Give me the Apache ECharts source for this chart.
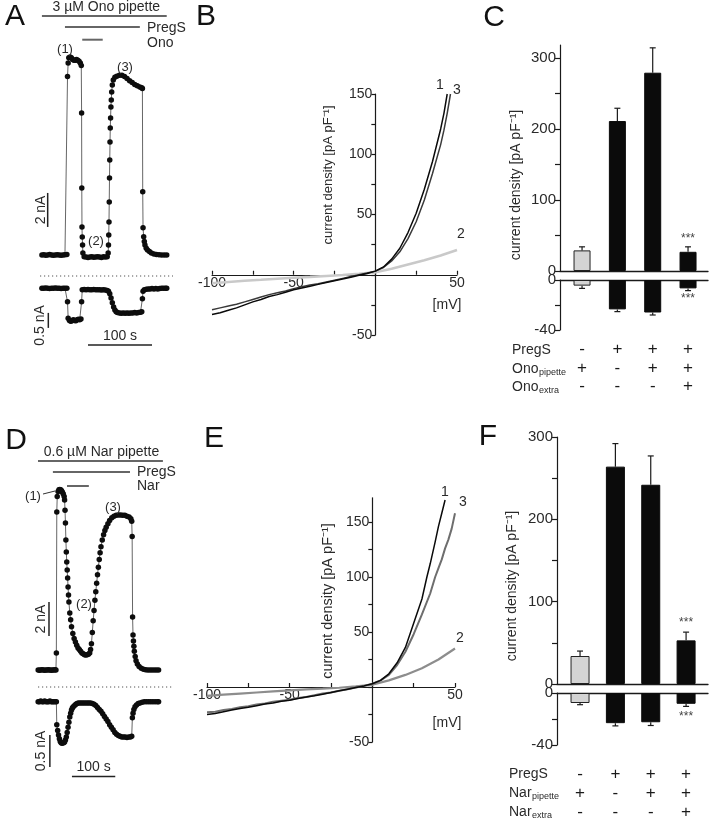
<!DOCTYPE html>
<html><head><meta charset="utf-8">
<script src="https://cdn.jsdelivr.net/npm/echarts@6/dist/echarts.min.js"></script>
<style>html,body{margin:0;padding:0;background:#fff}#c{width:710px;height:821px}</style>
</head><body><div id="c"></div>
<script>
// ---------------- DATA ----------------
// Panel A: whole-cell current vs time (s, nA)
const traceAUpper = [[3,0],[6,0.02],[9,-0.02],[12,0],[15,0.03],[18,0],[21,-0.02],[24,0],[27,0.02],[30,0],[33,-0.02],[36,0],[39,0.02],[42,0.03],[43,10.5],[44,11.3],[45,11.6],[47,11.65],[49,11.6],[51,11.5],[53,11.45],[55,11.45],[57,11.5],[59,11.45],[61,11.4],[63,11.3],[64.5,11.15],[65,8.35],[65.3,3.94],[65.6,1.65],[66,1.06],[66.5,0.59],[67,0.12],[69,-0.1],[72,-0.12],[75,-0.14],[78,-0.12],[81,-0.1],[84,-0.13],[87,-0.12],[90,-0.1],[93,-0.12],[96,-0.14],[99,-0.1],[102,-0.12],[105,-0.1],[106.5,0.12],[107,0.59],[107.4,1.18],[107.8,1.94],[108.2,3.12],[108.6,4.53],[109,5.59],[109.4,6.65],[109.8,7.47],[110.3,8.06],[110.8,8.71],[111.4,9.12],[112,9.59],[113,10.0],[114.5,10.3],[117,10.45],[120,10.52],[124,10.57],[128,10.58],[132,10.5],[136,10.38],[140,10.25],[144,10.14],[148,10.03],[152,9.95],[156,9.88],[159,9.84],[160,9.8],[160.5,3.72],[161,1.6],[162,1.08],[163,0.8],[164,0.59],[166,0.4],[168,0.29],[171,0.2],[174,0.12],[178,0.06],[182,0.03],[186,0.01],[190,0],[194,0],[198,0]];
const traceALower = [[3,0],[6,0],[9,0.01],[12,0],[15,-0.01],[18,0],[21,0],[24,0.01],[27,0],[30,0],[33,-0.01],[36,0],[39,0],[42,0],[43,-0.45],[44,-1.0],[46,-1.07],[48,-1.1],[50,-1.08],[52,-1.05],[54,-1.07],[56,-1.08],[58,-1.05],[60,-1.03],[62,-1.05],[64,-1.02],[65,-0.45],[66,-0.05],[69,-0.04],[72,-0.05],[75,-0.04],[78,-0.05],[81,-0.05],[84,-0.04],[87,-0.05],[90,-0.05],[93,-0.05],[96,-0.06],[99,-0.05],[102,-0.06],[105,-0.07],[107,-0.1],[109,-0.18],[111,-0.32],[113,-0.48],[115,-0.62],[117,-0.72],[119,-0.78],[121,-0.81],[124,-0.82],[127,-0.83],[130,-0.82],[133,-0.83],[136,-0.82],[139,-0.83],[142,-0.82],[145,-0.82],[148,-0.81],[151,-0.82],[154,-0.81],[157,-0.8],[159,-0.78],[160,-0.35],[161,-0.1],[163,-0.05],[166,-0.03],[169,-0.02],[172,-0.02],[175,-0.01],[178,-0.02],[181,-0.01],[184,-0.02],[187,-0.01],[190,0],[193,0],[196,0],[198,0]];
const pipetteA = [3, 198], pregsA = [39, 156], onoA = [66, 98];

// Panel D
const traceDUpper = [[5,0],[8,-0.02],[11,0],[14,0.02],[17,0],[20,-0.02],[23,0],[26,0],[29,0.02],[32,0],[35,-0.02],[38,0],[41,0],[44,0.02],[46,0],[47,1.0],[48,9.3],[49,10.2],[51,10.5],[53,10.6],[55,10.62],[57,10.6],[59,10.55],[61,10.45],[63,10.35],[65,10.2],[66,10.0],[67,9.4],[68,8.65],[69,7.65],[70,6.94],[71,6.35],[72,5.88],[73,5.41],[74,4.88],[75,4.41],[76,4.0],[78,3.35],[80,2.95],[82,2.55],[85,2.15],[88,1.85],[91,1.65],[94,1.45],[97,1.3],[100,1.2],[103,1.1],[106,1.0],[109,0.95],[112,0.9],[115,0.88],[118,0.9],[121,0.93],[124,1.0],[126,1.2],[128,1.55],[130,2.2],[132,2.9],[134,3.5],[136,4.1],[138,4.6],[140,5.1],[142,5.6],[144,6.05],[146,6.5],[148,6.9],[150,7.25],[153,7.65],[156,7.95],[159,8.2],[162,8.4],[166,8.6],[170,8.8],[175,8.95],[180,9.05],[185,9.1],[190,9.12],[195,9.12],[200,9.1],[205,9.1],[210,9.05],[215,9.0],[219,8.9],[221,8.75],[222,7.85],[223,3.12],[224,2.06],[225,1.7],[226,1.4],[227,1.1],[229,0.8],[231,0.55],[234,0.35],[238,0.2],[243,0.1],[248,0.05],[253,0.02],[258,0],[263,0],[268,0],[273,0],[278,0],[283,0]];
const traceDLower = [[5,0],[8,0],[11,0.01],[14,0],[17,0],[20,0.01],[23,0],[26,0],[29,0],[32,0.01],[35,0],[38,0],[41,0],[44,0],[47,0],[48,-0.36],[50,-0.45],[52,-0.52],[54,-0.58],[56,-0.62],[58,-0.64],[60,-0.65],[62,-0.64],[64,-0.64],[66,-0.63],[68,-0.6],[70,-0.55],[72,-0.48],[74,-0.4],[76,-0.32],[78,-0.24],[80,-0.18],[82,-0.13],[84,-0.1],[86,-0.08],[89,-0.06],[92,-0.04],[95,-0.03],[98,-0.02],[102,-0.02],[106,-0.02],[110,-0.02],[114,-0.02],[118,-0.02],[122,-0.02],[126,-0.02],[130,-0.03],[134,-0.04],[138,-0.06],[142,-0.09],[146,-0.12],[150,-0.15],[154,-0.19],[158,-0.23],[162,-0.27],[166,-0.31],[170,-0.36],[174,-0.4],[178,-0.44],[182,-0.48],[186,-0.51],[190,-0.53],[194,-0.54],[198,-0.55],[202,-0.55],[206,-0.55],[210,-0.56],[214,-0.55],[218,-0.55],[221,-0.54],[222.5,-0.25],[224,-0.18],[226,-0.12],[228.6,-0.08],[232,-0.05],[236,-0.03],[240,-0.02],[245,-0.01],[250,0],[255,0],[260,0],[265,0],[270,0],[275,0],[280,0],[283,0]];
const pipetteD = [4.6, 293], pregsD = [39, 217], narD = [71.6, 122];

// Panel B: current density (pA/pF) vs voltage (mV)
const ivB1 = [[-100,-33],[-95,-31.5],[-90,-29.5],[-85,-27.5],[-80,-25],[-75,-22.5],[-70,-20.5],[-65,-18],[-60,-16.5],[-55,-14.5],[-50,-12.5],[-45,-11],[-40,-9.5],[-35,-8],[-30,-6.5],[-25,-5],[-20,-3.5],[-15,-2],[-10,-0.5],[-5,1],[0,3],[5,6.5],[10,13],[15,22],[20,35],[25,51],[30,71],[35,94],[40,121],[42,134],[44,150]];
const ivB3 = [[-100,-29],[-95,-27.5],[-90,-26],[-85,-24.5],[-80,-22.5],[-75,-20.5],[-70,-18.5],[-65,-16.5],[-60,-15],[-55,-13.5],[-50,-11.5],[-45,-10],[-40,-8.5],[-35,-7.5],[-30,-6],[-25,-4.5],[-20,-3],[-15,-1.5],[-10,0],[-5,1.5],[0,3],[5,6],[10,11.5],[15,19],[20,30],[25,44],[30,62],[35,84],[40,108],[42,120],[44,134],[46,150]];
const ivB2 = [[-100,-7],[-90,-6],[-80,-5],[-70,-4.2],[-60,-3.3],[-50,-2.5],[-40,-1.8],[-30,-1],[-20,-0.2],[-10,0.8],[0,2],[10,5],[20,8.5],[30,12],[40,16],[50,20.5]];

// Panel E
const ivE1 = [[-100,-25],[-95,-24],[-90,-22.5],[-85,-21],[-80,-19.5],[-75,-18.5],[-70,-17],[-65,-15.5],[-60,-14.5],[-55,-13],[-50,-12],[-45,-10.5],[-40,-9],[-35,-8],[-30,-6.5],[-25,-5],[-20,-3.5],[-15,-2],[-10,-0.5],[-5,1],[0,3],[5,6],[10,12],[15,22],[20,36],[25,58],[30,80],[33,100],[35,112],[38,132],[40,146],[42,158],[44,170]];
const ivE3 = [[-100,-23],[-95,-22.5],[-90,-21],[-85,-20],[-80,-18.5],[-75,-17.5],[-70,-16],[-65,-15],[-60,-13.5],[-55,-12.5],[-50,-11.5],[-45,-10],[-40,-9],[-35,-7.5],[-30,-6],[-25,-5],[-20,-3.5],[-15,-2],[-10,-0.5],[-5,1],[0,3],[5,6],[10,11],[15,20],[20,32],[25,48],[30,66],[35,85],[38,100],[40,108],[42,116],[44,126],[46,134],[48,144],[50,158]];
const ivE2 = [[-100,-8],[-90,-7],[-80,-6],[-70,-5],[-60,-4],[-50,-3],[-40,-2.2],[-30,-1.5],[-20,-0.7],[-10,0.5],[0,2],[10,6],[20,11],[30,17],[40,25],[50,35]];

// Panel C: mean outward / inward current density and error-bar ends
const cOutMean = [29, 211, 279, 27];
const cOutErrEnd = [34, 229, 314, 34];
const cInMean = [-4.5, -23.5, -26, -6.7];
const cInErrEnd = [-6.7, -25.3, -28, -8.5];
const cSig = ['', '', '', '***'];
const pregsRowC = ['-', '+', '+', '+'];
const onoPipRowC = ['+', '-', '+', '+'];
const onoExtRowC = ['-', '-', '-', '+'];

// Panel F
const fOutMean = [34, 264, 242, 53];
const fOutErrEnd = [40, 292, 277, 63];
const fInMean = [-7.7, -23.2, -22.5, -8.3];
const fInErrEnd = [-9, -25.3, -25, -10.3];
const fSig = ['', '', '', '***'];
const pregsRowF = ['-', '+', '+', '+'];
const narPipRowF = ['+', '-', '+', '+'];
const narExtRowF = ['-', '-', '-', '+'];

// Axis ticks
const ivXTicks = [-100, -75, -50, -25, 0, 25, 50];
const ivXLabels = [-100, -50, 50];
const ivYTicks = [-50, -25, 0, 25, 50, 75, 100, 125, 150];
const ivYLabels = [-50, 50, 100, 150];
const barYTicks = [0, 50, 100, 150, 200, 250, 300];
const barYLabels = [0, 100, 200, 300];
const barNegTicks = [-40, -20, 0];
const barNegLabels = [-40, 0];
const conditionIdx = [1, 2, 3, 4];

// ---------------- CHART ----------------
const FONT = '"Liberation Sans", Arial, Helvetica, sans-serif';
const INK = '#1a1a1a';
const TXT = '#2a2a2a';
const chart = echarts.init(document.getElementById('c'), null, {renderer: 'canvas'});

// IV plot frames (pixel box + value ranges)
const ivB = {left: 212, top: 94, width: 245, height: 241, xmin: -100, xmax: 50, ymin: -50, ymax: 150};
const ivE = {left: 207, top: 497.8, width: 248, height: 244.2, xmin: -100, xmax: 50, ymin: -50, ymax: 172};
const zeroX = f => f.left + (0 - f.xmin) / (f.xmax - f.xmin) * f.width;
const zeroY = f => f.top + (f.ymax - 0) / (f.ymax - f.ymin) * f.height;

const gridDefs = [
  {left: 40, top: 51, width: 128, height: 212.5},      // 0 A upper
  {left: 40, top: 277.8, width: 128, height: 58.5},    // 1 A lower
  {left: ivB.left, top: ivB.top, width: ivB.width, height: ivB.height}, // 2 B data
  {left: 560, top: 45, width: 148, height: 226},       // 3 C upper
  {left: 560, top: 280, width: 148, height: 50},       // 4 C lower
  {left: 36, top: 483, width: 138.6, height: 195.5},   // 5 D upper
  {left: 36, top: 688.9, width: 138.6, height: 83.2},  // 6 D lower
  {left: ivE.left, top: ivE.top, width: ivE.width, height: ivE.height}, // 7 E data
  {left: 557, top: 437, width: 151, height: 247},      // 8 F upper
  {left: 557, top: 693, width: 151, height: 52},       // 9 F lower
  {left: ivB.left, top: ivB.top, width: ivB.width, height: zeroY(ivB) - ivB.top},   // 10 B x-axis frame
  {left: zeroX(ivB), top: ivB.top, width: ivB.left + ivB.width - zeroX(ivB), height: ivB.height}, // 11 B y-axis frame
  {left: ivE.left, top: ivE.top, width: ivE.width, height: zeroY(ivE) - ivE.top},   // 12 E x-axis frame
  {left: zeroX(ivE), top: ivE.top, width: ivE.left + ivE.width - zeroX(ivE), height: ivE.height}  // 13 E y-axis frame
].map(g => Object.assign({outerBoundsMode: 'none', containLabel: false}, g));

const lbl = (o) => Object.assign({color: TXT, fontFamily: FONT, fontSize: 14}, o);
const hid = (g, min, max) => ({type: 'value', gridIndex: g, min, max, show: false});

function ivX(g, f) {
  return {type: 'value', gridIndex: g, min: f.xmin, max: f.xmax, position: 'bottom',
    axisLine: {show: true, onZero: false, lineStyle: {color: INK, width: 1.2}},
    axisTick: {show: true, inside: true, length: 4, customValues: ivXTicks, lineStyle: {color: INK, width: 1.2}},
    axisLabel: lbl({customValues: ivXLabels, margin: 1}),
    splitLine: {show: false}};
}
function ivY(g, f) {
  return {type: 'value', gridIndex: g, min: f.ymin, max: f.ymax, position: 'left',
    axisLine: {show: true, onZero: false, lineStyle: {color: INK, width: 1.2}},
    axisTick: {show: true, length: 4, customValues: ivYTicks, lineStyle: {color: INK, width: 1.2}},
    axisLabel: lbl({customValues: ivYLabels, margin: 3}),
    splitLine: {show: false}};
}
function barX(g, min, max, pos) {
  return {type: 'value', gridIndex: g, min, max, position: pos,
    axisLine: {show: true, onZero: false, lineStyle: {color: INK, width: 1.3}},
    axisTick: {show: false}, axisLabel: {show: false}, splitLine: {show: false}};
}
function tableX(g, min, max, rows, margin, lh) {
  return {type: 'value', gridIndex: g, min, max, position: 'bottom',
    axisLine: {show: false, onZero: false}, axisTick: {show: false}, splitLine: {show: false},
    axisLabel: {customValues: conditionIdx, margin, lineHeight: lh, fontSize: 17, color: '#1a1a1a', fontFamily: FONT,
      formatter: v => rows.map(r => r[Math.round(v) - 1]).join('\n')}};
}
function barY(g, min, max, ticks, labels) {
  return {type: 'value', gridIndex: g, min, max,
    axisLine: {show: true, onZero: false, lineStyle: {color: INK, width: 1.2}},
    axisTick: {show: true, length: 5, customValues: ticks, lineStyle: {color: INK, width: 1.2}},
    axisLabel: lbl({customValues: labels, margin: 4, fontSize: 15}),
    splitLine: {show: false}};
}

const xAxes = [
  hid(0, 0, 200), hid(1, 0, 200), hid(2, ivB.xmin, ivB.xmax),
  barX(3, 0.376, 4.565, 'bottom'), barX(4, 0.376, 4.565, 'top'),
  hid(5, 0, 320), hid(6, 0, 320), hid(7, ivE.xmin, ivE.xmax),
  barX(8, 0.348, 4.62, 'bottom'), barX(9, 0.348, 4.62, 'top'),
  tableX(4, 0.376, 4.565, [pregsRowC, onoPipRowC, onoExtRowC], 10.5, 18.5),
  tableX(9, 0.348, 4.62, [pregsRowF, narPipRowF, narExtRowF], 19.5, 19),
  ivX(10, ivB), hid(11, 0, ivB.xmax), ivX(12, ivE), hid(13, 0, ivE.xmax)
];
const yAxes = [
  hid(0, -0.5, 12), hid(1, -1.6, 0.35), hid(2, ivB.ymin, ivB.ymax),
  barY(3, 0, 318, barYTicks, barYLabels), barY(4, -40, 0, barNegTicks, barNegLabels),
  hid(5, -0.5, 11), hid(6, -1.1, 0.2), hid(7, ivE.ymin, ivE.ymax),
  barY(8, 0, 300, barYTicks, barYLabels), barY(9, -40, 0, barNegTicks, barNegLabels),
  hid(10, 0, ivB.ymax), ivY(11, ivB), hid(12, 0, ivE.ymax), ivY(13, ivE)
];

function trace(g, data) {
  return {type: 'line', xAxisIndex: g, yAxisIndex: g, data, symbol: 'circle', symbolSize: 5.5,
    showSymbol: true, showAllSymbol: true, itemStyle: {color: '#0d0d0d'},
    lineStyle: {color: '#555', width: 0.9}, silent: true, z: 3, animation: false};
}
function iv(g, data, color, width) {
  return {type: 'line', xAxisIndex: g, yAxisIndex: g, data, symbol: 'none', showSymbol: false,
    lineStyle: {color, width}, silent: true, animation: false, z: 3};
}
function bars(xi, yi, means, width) {
  return {type: 'bar', xAxisIndex: xi, yAxisIndex: yi, barWidth: width, silent: true, animation: false,
    data: means.map((m, i) => ({value: [i + 1, m],
      itemStyle: i === 0 ? {color: '#d4d4d4', borderColor: '#222', borderWidth: 1} : {color: '#0b0b0b', borderColor: '#0b0b0b', borderWidth: 1}}))};
}
function errs(xi, yi, means, ends, marks, dir, gap) {
  return {type: 'custom', xAxisIndex: xi, yAxisIndex: yi, z: 5, silent: true, animation: false, clip: false,
    data: means.map((m, i) => [i + 1, m, ends[i]]),
    renderItem(params, api) {
      const a = api.coord([api.value(0), api.value(1)]);
      const b = api.coord([api.value(0), api.value(2)]);
      const ch = [
        {type: 'line', shape: {x1: a[0], y1: a[1], x2: b[0], y2: b[1]}, style: {stroke: INK, lineWidth: 1.2}},
        {type: 'line', shape: {x1: b[0] - 3, y1: b[1], x2: b[0] + 3, y2: b[1]}, style: {stroke: INK, lineWidth: 1.2}}
      ];
      const m = marks[params.dataIndex];
      if (m) ch.push({type: 'text', x: b[0], y: b[1] + dir * gap,
        style: {text: m, fill: '#444', font: '12px ' + FONT, align: 'center', verticalAlign: 'middle'}});
      return {type: 'group', children: ch};
    }};
}

const option = {
  animation: false,
  backgroundColor: '#fff',
  textStyle: {fontFamily: FONT},
  grid: gridDefs,
  xAxis: xAxes,
  yAxis: yAxes,
  series: [
    trace(0, traceAUpper), trace(1, traceALower),
    trace(5, traceDUpper), trace(6, traceDLower),
    iv(2, ivB2, '#c9c9c9', 2.6), iv(2, ivB3, '#3a3a3a', 1.5), iv(2, ivB1, '#0a0a0a', 1.5),
    iv(7, ivE2, '#8d8d8d', 2.2), iv(7, ivE3, '#6e6e6e', 2.0), iv(7, ivE1, '#0a0a0a', 1.5),
    bars(3, 3, cOutMean, 17), bars(4, 4, cInMean, 17),
    errs(3, 3, cOutMean, cOutErrEnd, cSig, -1, 8), errs(4, 4, cInMean, cInErrEnd, cSig, 1, 8),
    bars(8, 8, fOutMean, 19), bars(9, 9, fInMean, 19),
    errs(8, 8, fOutMean, fOutErrEnd, fSig, -1, 9), errs(9, 9, fInMean, fInErrEnd, fSig, 1, 10)
  ]
};
chart.setOption(option);

// ---------------- ANNOTATIONS ----------------
const P = (g, x, y) => chart.convertToPixel({gridIndex: g}, [x, y]);
const G = [];
function txt(x, y, s, o) {
  o = o || {};
  G.push({type: 'text', silent: true, x, y, rotation: o.rot || 0, z: 10,
    style: {text: s, fill: o.color || TXT, font: (o.weight || 'normal') + ' ' + (o.size || 14) + 'px ' + FONT,
      align: o.align || 'center', verticalAlign: o.va || 'middle'}});
}
function seg(x1, y1, x2, y2, stroke, w, dash) {
  G.push({type: 'line', silent: true, z: 10, shape: {x1, y1, x2, y2},
    style: {stroke: stroke || INK, lineWidth: w || 1.5, lineDash: dash || null}});
}

// panel letters
[['A', 15, 17], ['B', 206, 17], ['C', 494, 18], ['D', 16, 441], ['E', 214, 439], ['F', 488, 437]]
  .forEach(([s, x, y]) => txt(x, y, s, {size: 30, color: '#111'}));

// Panel A annotations
(function () {
  const bar = (iv, y) => seg(P(0, iv[0], 0)[0], y, P(0, iv[1], 0)[0], y, '#666', 2);
  bar(pipetteA, 16); bar(pregsA, 27); bar(onoA, 39.7);
  txt((P(0, pipetteA[0], 0)[0] + P(0, pipetteA[1], 0)[0]) / 2 + 2, 7.5, '3 µM Ono pipette', {size: 14});
  txt(147, 28, 'PregS', {size: 14, align: 'left'});
  txt(147, 43, 'Ono', {size: 14, align: 'left'});
  txt(65, 49, '(1)', {size: 13}); txt(125, 67, '(3)', {size: 13}); txt(96, 241, '(2)', {size: 13});
  const s1 = P(0, 12, 1.65), s2 = P(0, 12, 3.65);
  seg(s1[0], s1[1], s2[0], s2[1], '#222', 1.5);
  txt(s1[0] - 7, (s1[1] + s2[1]) / 2, '2 nA', {size: 14, rot: Math.PI / 2});
  seg(40, 276, 173, 276, '#555', 1.2, [1.2, 2.8]);
  const l1 = P(1, 13, -0.82), l2 = P(1, 13, -1.32);
  seg(l1[0], l1[1], l2[0], l2[1], '#222', 1.5);
  txt(l1[0] - 8, (l1[1] + l2[1]) / 2 + 5, '0.5 nA', {size: 14, rot: Math.PI / 2});
  const t1 = P(1, 75, -1.89), t2 = P(1, 175, -1.89);
  seg(t1[0], t1[1], t2[0], t2[1], '#222', 1.5);
  txt((t1[0] + t2[0]) / 2, t1[1] - 9, '100 s', {size: 14});
})();

// Panel D annotations
(function () {
  const bar = (iv, y) => seg(P(5, iv[0], 0)[0], y, P(5, iv[1], 0)[0], y, '#666', 2);
  bar(pipetteD, 461); bar(pregsD, 472); bar(narD, 486);
  txt((P(5, pipetteD[0], 0)[0] + P(5, pipetteD[1], 0)[0]) / 2 + 1, 452, '0.6 µM Nar pipette', {size: 14});
  txt(137, 472, 'PregS', {size: 14, align: 'left'});
  txt(137, 486, 'Nar', {size: 14, align: 'left'});
  txt(33, 496, '(1)', {size: 13}); seg(43, 494, 55, 491, '#333', 1);
  txt(113, 507, '(3)', {size: 13}); txt(84, 604, '(2)', {size: 13});
  const s1 = P(5, 30, 2.0), s2 = P(5, 30, 4.0);
  seg(s1[0], s1[1], s2[0], s2[1], '#222', 1.5);
  txt(s1[0] - 8, (s1[1] + s2[1]) / 2, '2 nA', {size: 14, rot: Math.PI / 2});
  seg(38, 687, 173, 687, '#555', 1.2, [1.2, 2.8]);
  const l1 = P(6, 32, -0.52), l2 = P(6, 32, -1.02);
  seg(l1[0], l1[1], l2[0], l2[1], '#222', 1.5);
  txt(l1[0] - 9, (l1[1] + l2[1]) / 2, '0.5 nA', {size: 14, rot: Math.PI / 2});
  const t1 = P(6, 83, -1.17), t2 = P(6, 183, -1.17);
  seg(t1[0], t1[1], t2[0], t2[1], '#222', 1.5);
  txt((t1[0] + t2[0]) / 2, t1[1] - 9, '100 s', {size: 14});
})();

// Panel B / E annotations
txt(328, 175, 'current density [pA pF⁻¹]', {size: 13, rot: Math.PI / 2});
txt(447, 305, '[mV]', {size: 14});
txt(440, 85, '1', {size: 14}); txt(457, 90, '3', {size: 14}); txt(461, 234, '2', {size: 14});
txt(328, 601, 'current density [pA pF⁻¹]', {size: 14.5, rot: Math.PI / 2});
txt(447, 723, '[mV]', {size: 14});
txt(445, 492, '1', {size: 14}); txt(463, 502, '3', {size: 14}); txt(460, 638, '2', {size: 14});

// Panel C / F annotations
txt(516, 185, 'current density [pA pF⁻¹]', {size: 14, rot: Math.PI / 2});
txt(512, 586, 'current density [pA pF⁻¹]', {size: 14, rot: Math.PI / 2});
function rowLabels(x, ys, main, subs) {
  txt(x, ys[0], 'PregS', {size: 14, align: 'left'});
  const w = main === 'Ono' ? 27 : 23;
  txt(x, ys[1], main, {size: 14, align: 'left'}); txt(x + w, ys[1] + 4, subs[0], {size: 9, align: 'left'});
  txt(x, ys[2], main, {size: 14, align: 'left'}); txt(x + w, ys[2] + 4, subs[1], {size: 9, align: 'left'});
}
rowLabels(512, [350, 369, 387], 'Ono', ['pipette', 'extra']);
rowLabels(509, [774, 793, 812], 'Nar', ['pipette', 'extra']);

chart.setOption({graphic: G});
</script></body></html>
